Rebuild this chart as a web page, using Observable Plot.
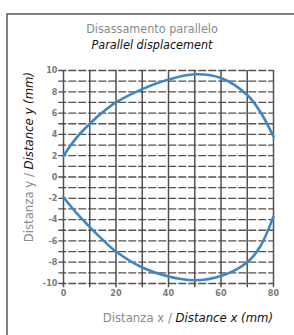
<!DOCTYPE html>
<html>
<head>
<meta charset="utf-8">
<script src="https://cdn.jsdelivr.net/npm/d3@7"></script>
<script src="https://cdn.jsdelivr.net/npm/@observablehq/plot@0.6"></script>
<style>
  html, body { margin: 0; padding: 0; background: #fff; }
  #chart { width: 294px; height: 335px; overflow: hidden; }
  svg { font-family: "Liberation Sans Narrow", "DejaVu Sans Condensed", "Liberation Sans", sans-serif; }
</style>
</head>
<body>
<div id="chart"></div>
<script>
// Data
const xValues = [0, 5, 10, 15, 20, 30, 40, 50, 60, 70, 75, 80];
const upperY  = [2.0, 3.7, 5.0, 6.1, 7.0, 8.25, 9.15, 9.65, 9.3, 7.7, 6.1, 3.8];
const lowerY  = [-1.9, -3.4, -4.7, -5.9, -7.0, -8.5, -9.35, -9.7, -9.3, -8.0, -6.5, -3.7];
const xTickLabels = [0, 20, 40, 60, 80];
const yTickLabels = [10, 8, 6, 4, 2, 0, -2, -4, -6, -8, -10];
const xGrid = d3.range(0, 81, 10);
const yGrid = d3.range(-10, 11, 1);

const upper = xValues.map((x, i) => ({x, y: upperY[i]}));
const lower = xValues.map((x, i) => ({x, y: lowerY[i]}));

const gridColor = "#463c3b";
const lineColor = "#3f86c4";
const fmt = d => d < 0 ? "-" + (-d) : String(d);

const svg = Plot.plot({
  width: 294,
  height: 335,
  marginLeft: 63,
  marginRight: 21,
  marginTop: 70,
  marginBottom: 52,
  x: {domain: [0, 80]},
  y: {domain: [-10, 10]},
  style: {fontFamily: "'Liberation Sans Narrow', 'DejaVu Sans Condensed', sans-serif", fontSize: "9px"},
  marks: [
    Plot.ruleY(yGrid, {x1: -1.8, x2: 80, stroke: gridColor, strokeWidth: 1.3, strokeDasharray: "8,2", strokeOpacity: 0.9}),
    Plot.ruleX(xGrid, {y1: -10.4, y2: 10, stroke: gridColor, strokeWidth: 1.5, strokeOpacity: 0.9}),
    Plot.line(upper, {x: "x", y: "y", curve: "catmull-rom", stroke: lineColor, strokeWidth: 2.6}),
    Plot.line(lower, {x: "x", y: "y", curve: "catmull-rom", stroke: lineColor, strokeWidth: 2.6}),
    Plot.axisX(xTickLabels, {tickSize: 0, tickPadding: 6, tickFormat: fmt, fill: "#7a7a7a", fontWeight: "bold", fontSize: 9, label: null}),
    Plot.axisY(yTickLabels, {tickSize: 0, tickPadding: 6, tickFormat: fmt, fill: "#7a7a7a", fontWeight: "bold", fontSize: 9, label: null})
  ]
});

const s = d3.select(svg);
// frame
s.append("path").attr("d", "M7,335V14H294").attr("fill", "none").attr("stroke", "#555").attr("stroke-width", 1.5);

// titles
s.append("text").attr("x", 152).attr("y", 33).attr("text-anchor", "middle")
  .attr("font-size", 12.5).attr("fill", "#8a8a8a").text("Disassamento parallelo");
s.append("text").attr("x", 152).attr("y", 49).attr("text-anchor", "middle")
  .attr("font-size", 12.5).attr("font-style", "italic").attr("fill", "#111").text("Parallel displacement");

// x label
const xl = s.append("text").attr("x", 273).attr("y", 322).attr("text-anchor", "end").attr("font-size", 13);
xl.append("tspan").attr("fill", "#8a8a8a").text("Distanza x / ");
xl.append("tspan").attr("fill", "#111").attr("font-style", "italic").text("Distance x (mm)");

// y label
const yl = s.append("text").attr("transform", "translate(33,72) rotate(-90)").attr("text-anchor", "end").attr("font-size", 13);
yl.append("tspan").attr("fill", "#8a8a8a").text("Distanza y / ");
yl.append("tspan").attr("fill", "#111").attr("font-style", "italic").text("Distance y (mm)");

document.getElementById("chart").appendChild(svg);
</script>
</body>
</html>
